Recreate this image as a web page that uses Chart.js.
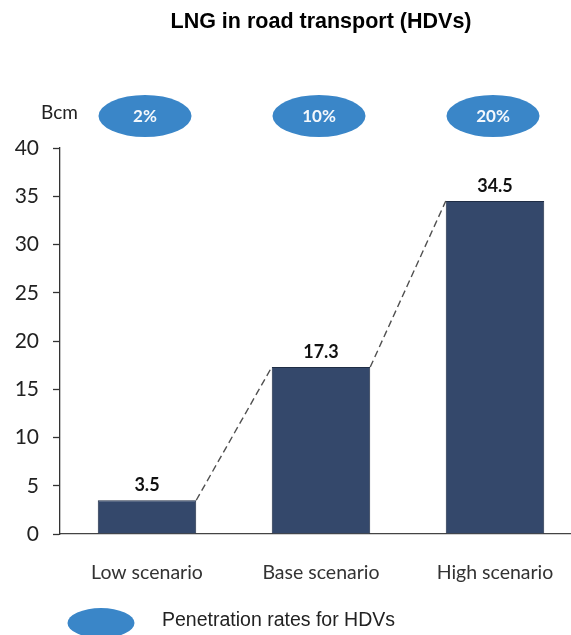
<!DOCTYPE html>
<html>
<head>
<meta charset="utf-8">
<script src="https://cdn.jsdelivr.net/npm/chart.js@4"></script>
<style>
  html, body { margin: 0; padding: 0; background: #ffffff; overflow: hidden; }
  #wrap { width: 582px; height: 635px; }
</style>
</head>
<body>
<div id="wrap"><canvas id="chart" width="582" height="635"></canvas></div>
<script>
// Scenario data: LNG demand of heavy-duty vehicles (Bcm)
const categories = ['Low scenario', 'Base scenario', 'High scenario'];
const volumes = [3.5, 17.3, 34.5];
const penetrationRates = ['2%', '10%', '20%'];
const yAxisMax = 40;
const yAxisStep = 5;

const titleText = 'LNG in road transport (HDVs)';
const unitText = 'Bcm';
const legendText = 'Penetration rates for HDVs';

const BAR_COLOR = '#34486b';
const BUBBLE_COLOR = '#3a86c8';
const TEXT_FONT = 'Lato, "Open Sans", sans-serif';
const ARIAL = '"Liberation Sans", Arial, sans-serif';

function ellipse(ctx, cx, cy, rx, ry, color) {
  ctx.beginPath();
  ctx.ellipse(cx, cy, rx, ry, 0, 0, Math.PI * 2);
  ctx.fillStyle = color;
  ctx.fill();
}

const annotations = {
  id: 'annotations',
  afterDatasetsDraw(chart) {
    const ctx = chart.ctx;
    const xs = chart.scales.x;
    const bars = chart.getDatasetMeta(0).data;
    ctx.save();

    // dashed connectors between neighbouring bar tops
    ctx.strokeStyle = '#505050';
    ctx.lineWidth = 1.4;
    ctx.setLineDash([7, 4]);
    for (let i = 0; i < bars.length - 1; i++) {
      const a = bars[i], b = bars[i + 1];
      ctx.beginPath();
      ctx.moveTo(a.x + a.width / 2, a.y);
      ctx.lineTo(b.x - b.width / 2, b.y);
      ctx.stroke();
    }
    ctx.setLineDash([]);

    // value labels
    ctx.fillStyle = '#111111';
    ctx.font = 'bold 18px ' + TEXT_FONT;
    ctx.textAlign = 'center';
    ctx.textBaseline = 'middle';
    bars.forEach((bar, i) => {
      ctx.fillText(volumes[i].toFixed(1), bar.x, bar.y - 15);
    });

    // penetration-rate bubbles above each scenario
    categories.forEach((c, i) => {
      const cx = xs.getPixelForValue(i) - 2;
      ellipse(ctx, cx, 116, 46.5, 21, BUBBLE_COLOR);
      ctx.fillStyle = '#f4f8fc';
      ctx.font = 'bold 17px ' + TEXT_FONT;
      ctx.fillText(penetrationRates[i], cx, 117);
    });

    // unit label
    ctx.fillStyle = '#222222';
    ctx.font = '19px ' + TEXT_FONT;
    ctx.textAlign = 'left';
    ctx.fillText(unitText, 41, 113);

    // title
    ctx.fillStyle = '#000000';
    ctx.font = 'bold 21.5px ' + ARIAL;
    ctx.textAlign = 'center';
    ctx.fillText(titleText, 321, 22);

    // legend
    ellipse(ctx, 101, 623, 33.5, 15, BUBBLE_COLOR);
    ctx.fillStyle = '#222222';
    ctx.font = '19.5px ' + ARIAL;
    ctx.textAlign = 'left';
    ctx.fillText(legendText, 162, 621);

    ctx.restore();
  }
};

new Chart(document.getElementById('chart'), {
  type: 'bar',
  data: {
    labels: categories,
    datasets: [{
      data: volumes,
      backgroundColor: BAR_COLOR,
      borderColor: '#1f2d45',
      borderWidth: 1,
      categoryPercentage: 1,
      barPercentage: 0.566
    }]
  },
  options: {
    responsive: false,
    devicePixelRatio: 1,
    animation: false,
    layout: { padding: { top: 148, left: 0, right: 0, bottom: 0 } },
    plugins: {
      legend: { display: false },
      title: { display: false },
      tooltip: { enabled: false }
    },
    scales: {
      x: {
        grid: { display: false },
        border: { display: true, color: '#444444', width: 1.3 },
        ticks: {
          color: '#333333',
          font: { family: TEXT_FONT, size: 19.5 },
          padding: 19
        },
        afterFit(scale) { scale.height = 101; }
      },
      y: {
        min: 0,
        max: yAxisMax,
        grid: {
          drawOnChartArea: false,
          drawTicks: true,
          tickLength: 7,
          tickColor: '#333333',
          tickWidth: 1.3
        },
        border: { display: true, color: '#333333', width: 1.3 },
        ticks: {
          stepSize: yAxisStep,
          color: '#222222',
          font: { family: TEXT_FONT, size: 21 },
          padding: 14
        },
        afterFit(scale) { scale.width = 60; }
      }
    }
  },
  plugins: [annotations]
});
</script>
</body>
</html>
